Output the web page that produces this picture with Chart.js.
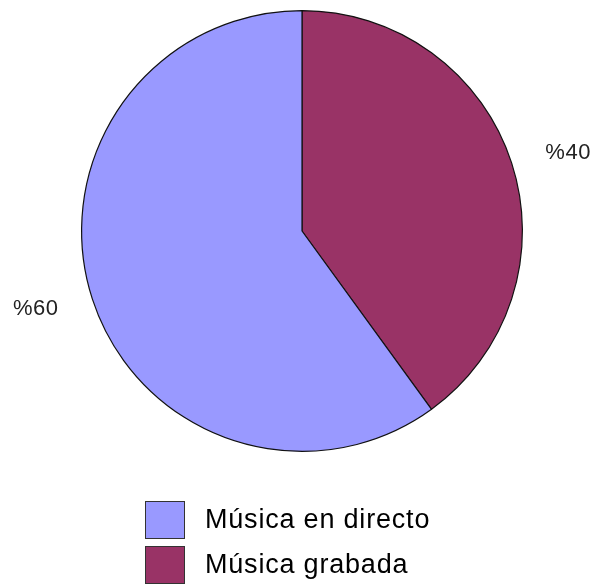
<!DOCTYPE html>
<html>
<head>
<meta charset="utf-8">
<script src="https://cdn.jsdelivr.net/npm/chart.js@4"></script>
<style>
html,body{margin:0;padding:0;background:#fff;}
#wrap{position:relative;width:598px;height:584px;}
</style>
</head>
<body>
<div id="wrap"><canvas id="c" width="598" height="584"></canvas></div>
<script>
// Data
const categories = ["Música grabada", "Música en directo"];
const values = [40, 60];
const labelsText = ["%40", "%60"];
const colors = ["#993366", "#9999ff"];
const legendOrder = [1, 0];

const labelPlugin = {
  id: 'outerLabels',
  afterDatasetsDraw(chart) {
    const ctx = chart.ctx;
    const meta = chart.getDatasetMeta(0);
    ctx.save();
    ctx.font = '22px "Liberation Sans", Arial, sans-serif';
    if ('letterSpacing' in ctx) ctx.letterSpacing = '0.6px';
    ctx.fillStyle = '#222';
    ctx.textAlign = 'center';
    ctx.textBaseline = 'middle';
    meta.data.forEach((arc, i) => {
      const mid = (arc.startAngle + arc.endAngle) / 2;
      const d = arc.outerRadius * 1.27;
      const x = arc.x + Math.cos(mid) * d;
      const y = arc.y + Math.sin(mid) * d * 0.9;
      ctx.fillText(labelsText[i], x, y);
    });
    ctx.restore();
  }
};

const legendPlugin = {
  id: 'customLegend',
  afterDraw(chart) {
    const ctx = chart.ctx;
    const boxX = 145.5, boxW = 39, boxH = 37, textX = 205;
    const rowsY = [501.5, 546.5];
    ctx.save();
    ctx.font = '27px "Liberation Sans", Arial, sans-serif';
    if ('letterSpacing' in ctx) ctx.letterSpacing = '0.8px';
    ctx.textBaseline = 'middle';
    ctx.textAlign = 'left';
    legendOrder.forEach((idx, r) => {
      const y = rowsY[r];
      ctx.fillStyle = colors[idx];
      ctx.fillRect(boxX, y, boxW, boxH);
      ctx.strokeStyle = '#333';
      ctx.lineWidth = 1;
      ctx.strokeRect(boxX, y, boxW, boxH);
      ctx.fillStyle = '#000';
      ctx.fillText(categories[idx], textX, y + boxH / 2 + 1);
    });
    ctx.restore();
  }
};

new Chart(document.getElementById('c'), {
  type: 'pie',
  data: {
    labels: categories,
    datasets: [{
      data: values,
      backgroundColor: colors,
      borderColor: '#111',
      borderWidth: 1.2
    }]
  },
  options: {
    responsive: false,
    animation: false,
    layout: { padding: { top: 10, bottom: 132, left: 6, right: 0 } },
    plugins: {
      legend: { display: false },
      tooltip: { enabled: false }
    }
  },
  plugins: [labelPlugin, legendPlugin]
});
</script>
</body>
</html>
